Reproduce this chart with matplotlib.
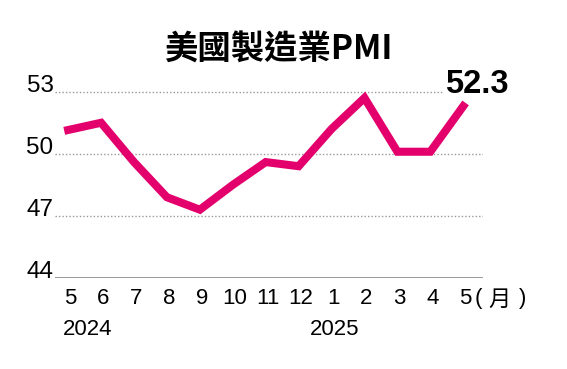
import matplotlib.pyplot as plt
from matplotlib.transforms import ScaledTranslation

plt.rcParams['font.family'] = ['Liberation Sans', 'Noto Sans CJK TC', 'DejaVu Sans']

# data
months = ['5', '6', '7', '8', '9', '10', '11', '12', '1', '2', '3', '4', '5']
pmi = [51.15, 51.5, 49.6, 47.9, 47.3, 48.5, 49.6, 49.4, 51.2, 52.7, 50.1, 50.1, 52.3]
years = ['2024', '2025']
year_pos = [0.6, 8.1]
yticks = [44, 47, 50, 53]

pink = '#E4006C'

fig = plt.figure(figsize=(5.67, 3.69), dpi=100)
ax = fig.add_axes([55 / 567, 91 / 369, 428 / 567, 207 / 369])

x = list(range(len(pmi)))
ax.plot(x, pmi, color=pink, lw=5.8, solid_joinstyle='miter', clip_on=False, zorder=3)

ax.set_xlim(-0.4, 12.6)
ax.set_ylim(44, 54)

for v in yticks[1:]:
    ax.axhline(v, color='#999999', lw=1.0, ls=(0, (1, 1.5)), zorder=1)
ax.axhline(44, color='#888888', lw=1.2, zorder=1)

for s in ax.spines.values():
    s.set_visible(False)

ax.set_yticks(yticks)
ax.set_yticklabels([str(v) for v in yticks], fontsize=17.5)
ax.tick_params(axis='y', length=0, pad=1)
up = ScaledTranslation(0, 6 / 100, fig.dpi_scale_trans)
for lbl in ax.get_yticklabels():
    lbl.set_verticalalignment('center')
    lbl.set_transform(lbl.get_transform() + up)

ax.set_xticks(x)
ax.set_xticklabels(months, fontsize=16)
ax.tick_params(axis='x', length=0, pad=7)
right = ScaledTranslation(2 / 100, 0, fig.dpi_scale_trans)
for lbl in ax.get_xticklabels():
    lbl.set_transform(lbl.get_transform() + right)

xt = ax.get_xaxis_transform()
ax.text(12.47, -0.05, '(', transform=xt, fontsize=16, ha='center', va='top')
ax.text(13.1, -0.05, '月', transform=xt, fontsize=16, ha='center', va='top',
        family=['Noto Sans CJK TC'])
ax.text(13.8, -0.05, ')', transform=xt, fontsize=16, ha='center', va='top')

for yr, p in zip(years, year_pos):
    ax.text(p, -0.2, yr, transform=xt, fontsize=16, ha='center', va='top')

# value label sits over the gridline but under the line
ax.text(x[-1] + 0.4, pmi[-1] + 0.3, f'{pmi[-1]}', fontsize=23.5, fontweight='bold',
        ha='center', va='bottom', zorder=2,
        bbox=dict(facecolor='white', edgecolor='none', pad=1))

fig.text(278 / 567, 1 - 50 / 369, '美國製造業PMI', fontsize=24, fontweight='bold',
         ha='center', va='center', family=['Noto Sans CJK TC', 'DejaVu Sans'])

fig.savefig('out.png', dpi=100)
